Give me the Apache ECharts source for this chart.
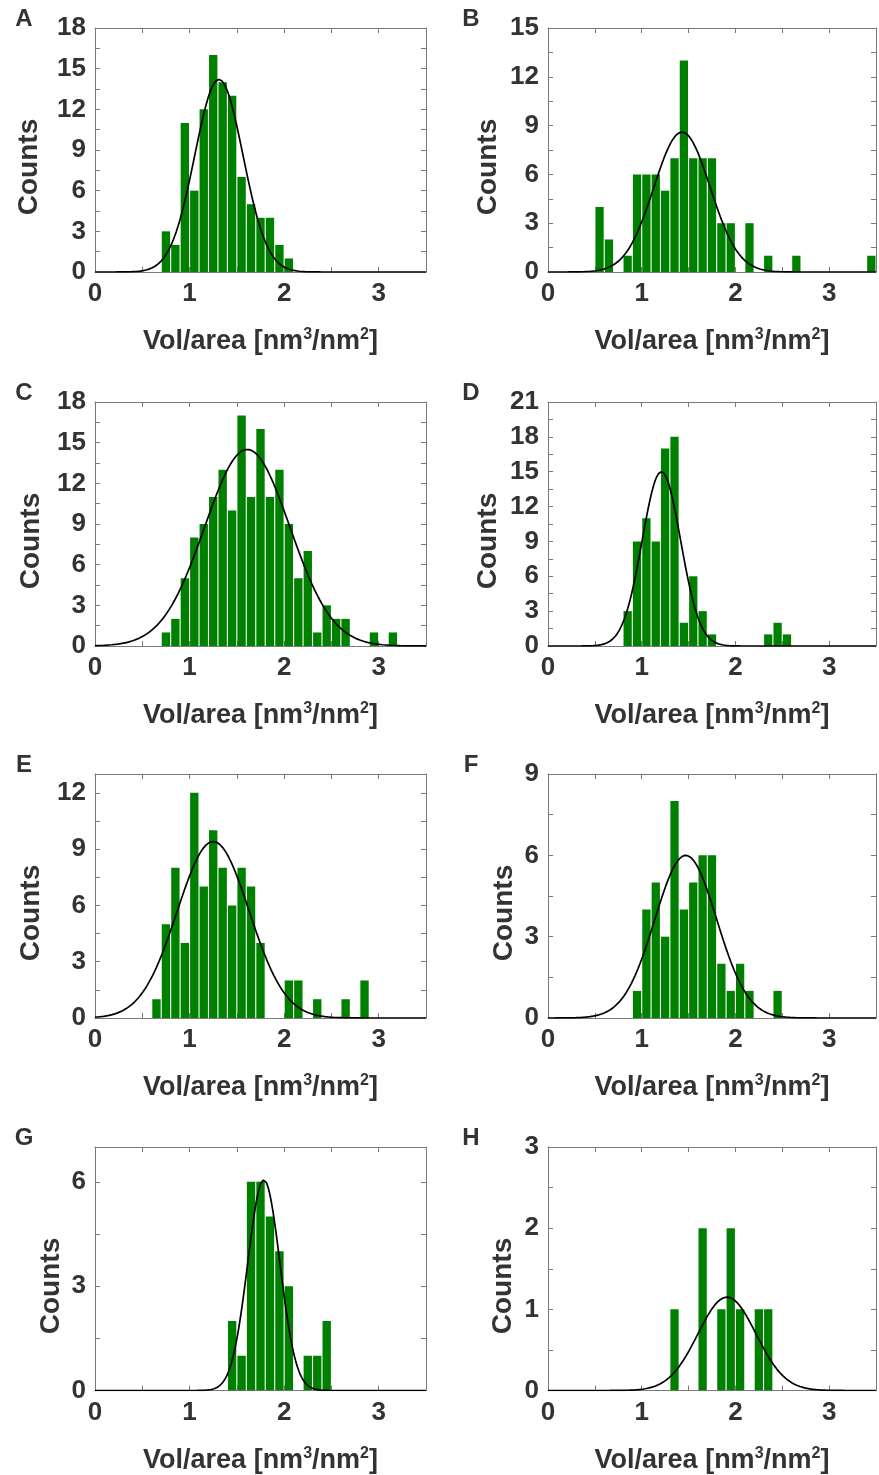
<!DOCTYPE html>
<html>
<head>
<meta charset="utf-8">
<script src="https://cdn.jsdelivr.net/npm/echarts@6/dist/echarts.min.js"></script>
<style>
  html, body { margin: 0; padding: 0; background: #fff; }
  #main { width: 879px; height: 1475px; }
</style>
</head>
<body>
<div id="main"></div>
<script>
// histogram bins (bin centres, width 0.1) and counts, one pair per panel
var binWidth = 0.1;

var centersA = [0.75, 0.85, 0.95, 1.05, 1.15, 1.25, 1.35, 1.45, 1.55, 1.65, 1.75, 1.85, 1.95, 2.05];
var countsA  = [3, 2, 11, 6, 12, 16, 14, 13, 7, 5, 4, 4, 2, 1];

var centersB = [0.55, 0.65, 0.75, 0.85, 0.95, 1.05, 1.15, 1.25, 1.35, 1.45, 1.55, 1.65, 1.75, 1.85, 1.95,
                2.05, 2.15, 2.25, 2.35, 2.45, 2.55, 2.65, 3.45];
var countsB  = [4, 2, 0, 1, 6, 6, 6, 5, 7, 13, 7, 7, 7, 3, 3, 0, 3, 0, 1, 0, 0, 1, 1];

var centersC = [0.75, 0.85, 0.95, 1.05, 1.15, 1.25, 1.35, 1.45, 1.55, 1.65, 1.75, 1.85, 1.95, 2.05, 2.15,
                2.25, 2.35, 2.45, 2.55, 2.65, 2.95, 3.15];
var countsC  = [1, 2, 5, 8, 9, 11, 13, 10, 17, 11, 16, 11, 13, 9, 5, 7, 1, 3, 2, 2, 1, 1];

var centersD = [0.85, 0.95, 1.05, 1.15, 1.25, 1.35, 1.45, 1.55, 1.65, 1.75, 2.35, 2.45, 2.55];
var countsD  = [3, 9, 11, 9, 17, 18, 2, 6, 3, 1, 1, 2, 1];

var centersE = [0.65, 0.75, 0.85, 0.95, 1.05, 1.15, 1.25, 1.35, 1.45, 1.55, 1.65, 1.75,
                2.05, 2.15, 2.35, 2.65, 2.85];
var countsE  = [1, 5, 8, 4, 12, 7, 10, 8, 6, 8, 7, 4, 2, 2, 1, 1, 2];

var centersF = [0.95, 1.05, 1.15, 1.25, 1.35, 1.45, 1.55, 1.65, 1.75, 1.85, 1.95, 2.05, 2.15, 2.45];
var countsF  = [1, 4, 5, 3, 8, 4, 5, 6, 6, 2, 1, 2, 1, 1];

var centersG = [1.45, 1.55, 1.65, 1.75, 1.85, 1.95, 2.05, 2.25, 2.35, 2.45];
var countsG  = [2, 1, 6, 6, 5, 4, 3, 1, 1, 2];

var centersH = [1.35, 1.65, 1.85, 1.95, 2.05, 2.25, 2.35];
var countsH  = [1, 2, 1, 2, 1, 1, 1];

// gaussian fit parameters
var panelNames = ['A', 'B', 'C', 'D', 'E', 'F', 'G', 'H'];
var fitCenter  = [1.31, 1.43, 1.61, 1.21, 1.25, 1.47, 1.785, 1.91];
var fitSigma   = [0.255, 0.30, 0.45, 0.205, 0.38, 0.33, 0.17, 0.31];
var fitPeak    = [14.2, 8.6, 14.5, 15.0, 9.4, 6.0, 6.05, 1.15];

// y axis ranges
var yMax      = [18, 15, 18, 21, 13, 9, 7, 3];
var yInterval = [1.5, 1.5, 1.5, 1.5, 1.5, 1.5, 1.5, 0.5];
var yLabelStep = [3, 3, 3, 3, 3, 3, 3, 1];

var xMin = 0, xMax = 3.5;

var allCenters = [centersA, centersB, centersC, centersD, centersE, centersF, centersG, centersH];
var allCounts  = [countsA, countsB, countsC, countsD, countsE, countsF, countsG, countsH];

var textColor = '#333';
var frameColor = '#7a7a7a';
var fontFam = 'Arial, "Liberation Sans", sans-serif';

// layout
var colLeft = [95, 548];
var colWidth = [331, 330];
var rowTop = [28, 402, 774, 1147];
var plotH = 244;
var countsX = [29, 488, 31, 488, 31, 504, 51, 503];

var chart = echarts.init(document.getElementById('main'));

var grids = [], xAxes = [], yAxes = [], series = [], graphics = [];

for (var i = 0; i < 8; i++) {
  var col = i % 2, row = Math.floor(i / 2);
  grids.push({ left: colLeft[col], top: rowTop[row], width: colWidth[col], height: plotH });

  var step = yLabelStep[i];
  var xCommon = {
    type: 'value', gridIndex: i, min: xMin, max: xMax, interval: 0.5,
    splitLine: { show: false },
    axisLine: { show: true, onZero: false, lineStyle: { color: frameColor, width: 1 } },
    axisTick: { show: true, inside: true, length: 5, lineStyle: { color: frameColor } }
  };
  xAxes.push(Object.assign({}, xCommon, {
    position: 'bottom',
    name: '{n|Vol/area [nm}{s|3}{n|/nm}{s|2}{n|]}',
    nameLocation: 'middle',
    nameGap: 55,
    nameTextStyle: {
      color: textColor, fontWeight: 'bold', fontFamily: fontFam,
      rich: {
        n: { color: textColor, fontSize: 27, fontWeight: 'bold', fontFamily: fontFam, lineHeight: 30 },
        s: { color: textColor, fontSize: 16, fontWeight: 'bold', fontFamily: fontFam, lineHeight: 16, verticalAlign: 'top' }
      }
    },
    axisLabel: {
      color: textColor, fontSize: 26, fontWeight: 'bold', fontFamily: fontFam, margin: 9,
      formatter: function (v) { return Math.abs(v - Math.round(v)) < 1e-6 ? String(Math.round(v)) : ''; }
    }
  }));
  xAxes.push(Object.assign({}, xCommon, { position: 'top', axisLabel: { show: false } }));

  var yCommon = {
    type: 'value', gridIndex: i, min: 0, max: yMax[i], interval: yInterval[i],
    splitLine: { show: false },
    axisLine: { show: true, onZero: false, lineStyle: { color: frameColor, width: 1 } },
    axisTick: { show: true, inside: true, length: 5, lineStyle: { color: frameColor } }
  };
  yAxes.push(Object.assign({}, yCommon, {
    position: 'left',
    axisLabel: {
      color: textColor, fontSize: 26, fontWeight: 'bold', fontFamily: fontFam, margin: 9,
      formatter: (function (s) {
        return function (v) {
          var q = v / s;
          return Math.abs(q - Math.round(q)) < 1e-6 ? String(Math.round(v)) : '';
        };
      })(step)
    }
  }));
  yAxes.push(Object.assign({}, yCommon, { position: 'right', axisLabel: { show: false } }));

  var barData = allCenters[i].map(function (c, k) { return [c, allCounts[i][k]]; });
  series.push({
    type: 'custom',
    xAxisIndex: 2 * i, yAxisIndex: 2 * i,
    data: barData,
    clip: true,
    renderItem: function (params, api) {
      var c = api.value(0), n = api.value(1);
      if (!n) return null;
      var p0 = api.coord([c - binWidth / 2, n]);
      var p1 = api.coord([c + binWidth / 2, 0]);
      return {
        type: 'rect',
        shape: { x: p0[0] + 0.55, y: p0[1], width: p1[0] - p0[0] - 1.1, height: p1[1] - p0[1] },
        style: { fill: '#008000' }
      };
    }
  });

  // fitted gaussian
  var fit = [];
  for (var x = xMin; x <= xMax + 1e-9; x += 0.01) {
    var z = (x - fitCenter[i]) / fitSigma[i];
    fit.push([x, fitPeak[i] * Math.exp(-0.5 * z * z)]);
  }
  series.push({
    type: 'line',
    xAxisIndex: 2 * i, yAxisIndex: 2 * i,
    data: fit,
    showSymbol: false,
    silent: true,
    z: 5,
    lineStyle: { color: '#000', width: 1.7 }
  });

  graphics.push({
    type: 'text',
    x: col === 0 ? 24 : 471,
    y: rowTop[row] - 9,
    style: {
      text: panelNames[i], fill: textColor, fontSize: 24, fontWeight: 'bold', fontFamily: fontFam,
      align: 'center', verticalAlign: 'middle'
    }
  });
  graphics.push({
    type: 'text',
    x: countsX[i],
    y: rowTop[row] + plotH / 2 + 17,
    rotation: Math.PI / 2,
    style: {
      text: 'Counts', fill: textColor, fontSize: 28, fontWeight: 'bold', fontFamily: fontFam,
      align: 'center', verticalAlign: 'middle'
    }
  });
}

chart.setOption({
  animation: false,
  backgroundColor: '#fff',
  grid: grids,
  xAxis: xAxes,
  yAxis: yAxes,
  series: series,
  graphic: graphics
});
</script>
</body>
</html>
